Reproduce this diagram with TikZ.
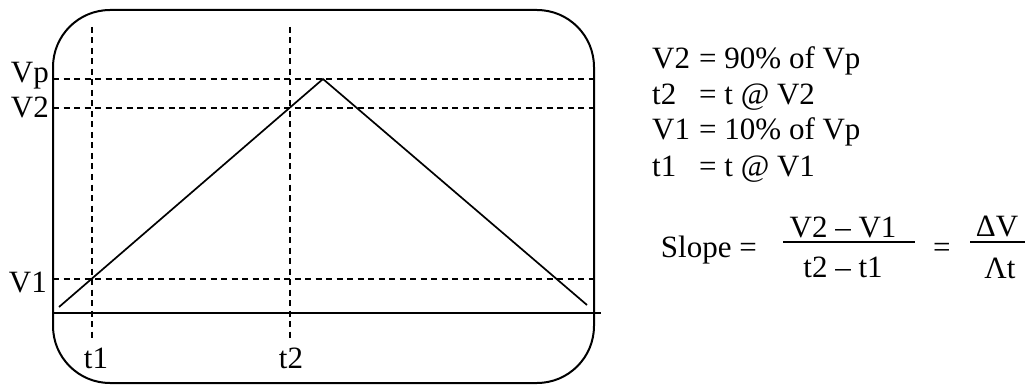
\documentclass[tikz,border=0pt]{standalone}
\usepackage{fontspec}
\setmainfont{Liberation Serif}
\begin{document}
\begin{tikzpicture}[x=1pt,y=-1pt,
  lbl/.style={inner sep=0pt,font=\fontsize{31}{37}\selectfont},
  guide/.style={line width=1.5pt,dash pattern=on 6pt off 4.5pt},
  solidline/.style={line width=1.7pt},
  frame/.style={line width=2pt,rounded corners=57pt}]
\useasboundingbox (0,0) rectangle (1031,385);
% frame
\draw[frame] (53,10) rectangle (594,383);
% guides
\coordinate (t1top) at (92,27);  \coordinate (t1bot) at (92,338);
\coordinate (t2top) at (290,27); \coordinate (t2bot) at (290,338);
\coordinate (vpL) at (53,79);  \coordinate (vpR) at (594,79);
\coordinate (v2L) at (53,108); \coordinate (v2R) at (594,108);
\coordinate (v1L) at (53,279); \coordinate (v1R) at (594,279);
\draw[guide] (t1top) -- (t1bot);
\draw[guide] (t2top) -- (t2bot);
\draw[guide] (vpL) -- (vpR);
\draw[guide] (v2L) -- (v2R);
\draw[guide] (v1L) -- (v1R);
% axis
\coordinate (axL) at (53,313); \coordinate (axR) at (601,313);
\draw[solidline,line width=2pt] (axL) -- (axR);
% waveform
\coordinate (w0) at (59,307); \coordinate (wp) at (323,79); \coordinate (w1) at (587,305);
\draw[solidline,line join=miter] (w0) -- (wp) -- (w1);
% axis labels
\node[lbl,anchor=base east] (lVp) at (49,83) {Vp};
\node[lbl,anchor=base east] (lV2) at (49,118) {V2};
\node[lbl,anchor=base east] (lV1) at (47,292) {V1};
\node[lbl,anchor=base] (lt1) at (96,368) {t1};
\node[lbl,anchor=base] (lt2) at (291,368) {t2};
% definitions
\node[lbl,anchor=base west] (d1a) at (652,69) {V2};
\node[lbl,anchor=base west] (d1b) at (699,69) {= 90\% of Vp};
\node[lbl,anchor=base west] (d2a) at (652,105) {t2};
\node[lbl,anchor=base west] (d2b) at (699,105) {= t @ V2};
\node[lbl,anchor=base west] (d3a) at (652,140) {V1};
\node[lbl,anchor=base west] (d3b) at (699,140) {= 10\% of Vp};
\node[lbl,anchor=base west] (d4a) at (652,176) {t1};
\node[lbl,anchor=base west] (d4b) at (699,176) {= t @ V1};
% slope
\node[lbl,anchor=base east] (slope) at (757,257) {Slope =};
\node[lbl,anchor=base] (num) at (843,237) {V2 – V1};
\node[lbl,anchor=base] (den) at (843,277) {t2 – t1};
\coordinate (b1L) at (783,242); \coordinate (b1R) at (915,242);
\draw[line width=1.6pt] (b1L) -- (b1R);
\node[lbl,anchor=base west] (eq2) at (933,257) {=};
\node[lbl,anchor=base] (dV) at (997,236) {ΔV};
\node[lbl,anchor=base] (dt) at (1000,278) {Λt};
\coordinate (b2L) at (970,242); \coordinate (b2R) at (1025,242);
\draw[line width=1.6pt] (b2L) -- (b2R);
\end{tikzpicture}
\end{document}
